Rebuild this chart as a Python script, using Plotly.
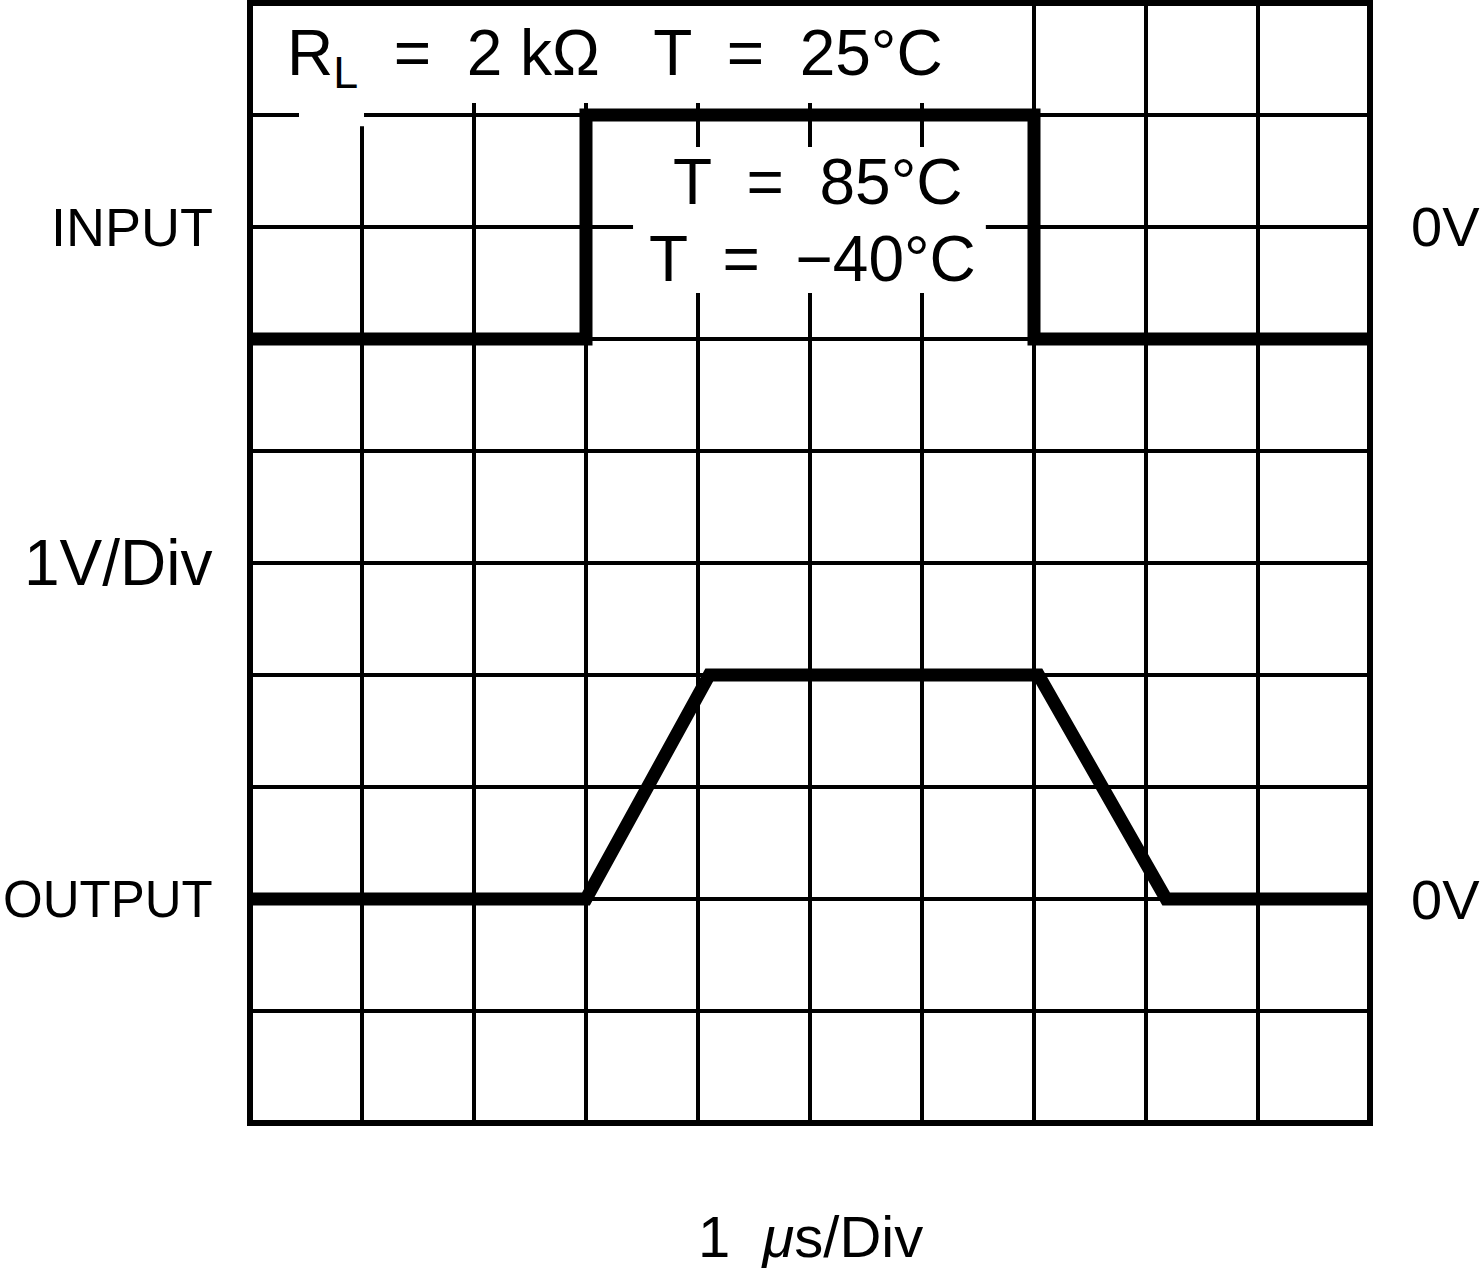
import plotly.graph_objects as go

# ---- data (divisions) ----
input_x = [0, 3.0, 3.0, 7.0, 7.0, 10]
input_y = [7, 7, 9, 9, 7, 7]
output_x = [0, 3.0, 4.1, 7.04, 8.18, 10]
output_y = [2, 2, 4, 4, 2, 2]

FONT = "Liberation Sans, Arial, sans-serif"

fig = go.Figure()
fig.add_trace(go.Scatter(x=input_x, y=input_y, mode="lines",
                         line=dict(color="black", width=13), hoverinfo="skip",
                         showlegend=False))
fig.add_trace(go.Scatter(x=output_x, y=output_y, mode="lines",
                         line=dict(color="black", width=13), hoverinfo="skip",
                         showlegend=False))

axis_common = dict(range=[0, 10], dtick=1, tick0=0, showgrid=True,
                   gridcolor="black", gridwidth=4, zeroline=False,
                   showticklabels=False, ticks="", showline=False, fixedrange=True)
fig.update_xaxes(**axis_common)
fig.update_yaxes(**axis_common)

shapes = [
    # white masks behind text (between grid and traces)
    dict(type="rect", xref="x", yref="y", x0=0.4375, x1=6.90, y0=9.107, y1=10.1,
         fillcolor="white", line=dict(width=0), layer="between"),
    dict(type="rect", xref="x", yref="y", x0=0.4375, x1=1.018, y0=8.90, y1=9.2,
         fillcolor="white", line=dict(width=0), layer="between"),
    dict(type="rect", xref="x", yref="y", x0=3.42, x1=6.57, y0=7.41, y1=8.714,
         fillcolor="white", line=dict(width=0), layer="between"),
    # border
    dict(type="rect", xref="paper", yref="paper", x0=0, x1=1, y0=0, y1=1,
         line=dict(color="black", width=6), layer="above"),
]

# (text, x paper, y paper, xanchor, size)
ann = [
    ("R<sub>L</sub>  =  2 kΩ   T  =  25°C", 0.031, 0.952, "left", 64),
    ("T  =  85°C", 0.507, 0.840, "center", 64),
    ("T  =  −40°C", 0.502, 0.771, "center", 64),
    ("INPUT", -0.031, 0.80, "right", 54),
    ("1V/Div", -0.031, 0.50, "right", 64),
    ("OUTPUT", -0.031, 0.20, "right", 51),
    ("0V", 1.035, 0.80, "left", 56),
    ("0V", 1.035, 0.20, "left", 56),
    ("1  <i>μ</i>s/Div", 0.50, -0.101, "center", 58),
]
annotations = []
for text, x, y, xa, size in ann:
    annotations.append(dict(text=text, x=x, y=y, xref="paper", yref="paper",
                            xanchor=xa, yanchor="middle", showarrow=False,
                            font=dict(family=FONT, size=size, color="black")))

fig.update_layout(
    width=1480, height=1277,
    margin=dict(l=250, r=110, t=3, b=154),
    paper_bgcolor="white", plot_bgcolor="white",
    shapes=shapes, annotations=annotations,
    showlegend=False,
)

fig.write_html("out.html", config={"displayModeBar": False},
               post_script="document.body.style.margin='0';")
